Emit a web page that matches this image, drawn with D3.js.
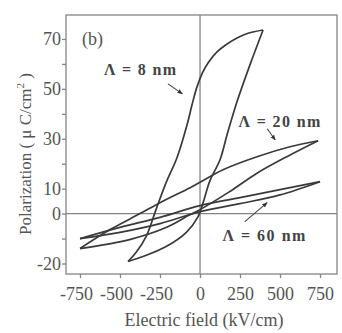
<!DOCTYPE html>
<html>
<head>
<meta charset="utf-8">
<script src="https://cdn.jsdelivr.net/npm/d3@7"></script>
<style>
	body { margin: 0; background: #fff; }
	svg { display: block; }
	svg text { font-family: "Liberation Serif", "Times New Roman", serif; fill: #555; }
</style>
</head>
<body>
<script>
// branches of the P-E loops, [E (kV/cm), P (uC/cm2)]
const loop8Upper = [[394, 73.6], [300, 72.3], [231, 70.4], [160, 67.6], [106, 64.8], [50, 60.4], [15, 56.4], [-20, 50.6],
	[-50, 43.6], [-81, 35.6], [-144, 22.4], [-212, 12.4], [-275, 1.6], [-337, -9.2], [-400, -15.6], [-450, -19.2]];
const loop8Lower = [[-450, -19.2], [-356, -17.2], [-212, -13.2], [-87, -7.6], [-12, -1.2], [20, 4.5], [62, 13.2],
	[125, 21.6], [169, 31.6], [231, 44.8], [312, 59.6], [394, 73.6]];
const loop20Upper = [[738, 29.2], [562, 26.8], [356, 22.8], [144, 17.6], [0, 12.6], [-62, 10.4], [-250, 4.4], [-375, 0],
	[-562, -6.4], [-750, -14]];
const loop20Lower = [[-750, -14], [-440, -10.4], [-212, -5.6], [-62, -0.4], [0, 1.6], [180, 8.6], [356, 16.2], [560, 23.4], [738, 29.2]];
const loop60Upper = [[750, 12.8], [500, 9.6], [250, 6.4], [0, 3.2], [-250, -1.5], [-500, -5.5], [-750, -10]];
const loop60Lower = [[-750, -10], [-500, -7.5], [-250, -4], [0, 0.8], [250, 4], [500, 7.5], [750, 12.8]];

const xTicks = [-750, -500, -250, 0, 250, 500, 750];
const yTicks = [-20, -10, 0, 10, 20, 30, 40, 50, 60, 70];
const yLabels = [-20, 0, 10, 30, 50, 70];

// annotation: text, text position and arrow [from, to] in data units
const notes = [
	{label: "Λ = 8 nm", at: [-600, 55.6], len: 72, arrow: [[-200, 52], [-110, 48]]},
	{label: "Λ = 20 nm", at: [240, 34.8], len: 82, arrow: [[420, 34], [470, 29.5]]},
	{label: "Λ  = 60 nm", at: [140, -11], len: 83, arrow: [[280, -3.2], [420, 4.4]]}
];

(() => {
	let width = 342;
	let height = 333;
	let left = 66, right = 337, top = 15, bottom = 274;

	let svg = d3.select("body").append("svg").attr("width", width).attr("height", height);

	let x = d3.scaleLinear().domain([-837.5, 856]).range([left, right]);
	let y = d3.scaleLinear().domain([-24.2, 79.6]).range([bottom, top]);

	let gray = "#858585";

	// frame
	svg.append("rect")
		.attr("x", left).attr("y", top)
		.attr("width", right - left).attr("height", bottom - top)
		.attr("fill", "none").attr("stroke", gray).attr("stroke-width", 1.3);

	// zero lines
	svg.append("line").attr("x1", x(0)).attr("x2", x(0)).attr("y1", top).attr("y2", bottom)
		.attr("stroke", gray).attr("stroke-width", 1.3);
	svg.append("line").attr("x1", left).attr("x2", right).attr("y1", y(0)).attr("y2", y(0))
		.attr("stroke", gray).attr("stroke-width", 1.3);

	// axes (plain hyphen for negatives, as in the figure)
	let xAxis = svg.append("g").attr("transform", `translate(0,${bottom})`)
		.call(d3.axisBottom(x).tickValues(xTicks).tickSize(4).tickPadding(9).tickSizeOuter(0)
			.tickFormat(d => String(d)));
	let yAxis = svg.append("g").attr("transform", `translate(${left},0)`)
		.call(d3.axisLeft(y).tickValues(yTicks).tickSize(4).tickPadding(1).tickSizeOuter(0)
			.tickFormat(d => yLabels.includes(d) ? String(d) : ""));
	[xAxis, yAxis].forEach(g => {
		g.attr("font-family", null).attr("font-size", null);
		g.select(".domain").remove();
		g.selectAll(".tick line").attr("stroke", gray).attr("stroke-width", 1.3);
		g.selectAll(".tick text").attr("fill", "#555").style("font-size", "18px");
	});
	xAxis.selectAll(".tick text").attr("dx", d => d < 0 ? -4 : 0);

	// axis titles
	svg.append("text")
		.attr("x", 204).attr("y", 326)
		.attr("text-anchor", "middle").style("font-size", "18px")
		.text("Electric field (kV/cm)");

	let yt = svg.append("text")
		.attr("transform", "translate(31,154) rotate(-90)")
		.attr("text-anchor", "middle").style("font-size", "17px");
	yt.append("tspan").text("Polarization ( μ C/cm");
	yt.append("tspan").attr("dy", -7).style("font-size", "11px").text("2");
	yt.append("tspan").attr("dy", 7).text(" )");

	svg.append("text").attr("x", 82).attr("y", 45).style("font-size", "18px").text("(b)");

	// loops
	let line = d3.line()
		.x(d => x(d[0]))
		.y(d => y(d[1]))
		.curve(d3.curveCatmullRom.alpha(0.5));

	[loop8Upper, loop8Lower, loop20Upper, loop20Lower, loop60Upper, loop60Lower].forEach(branch => {
		svg.append("path")
			.attr("d", line(branch))
			.attr("fill", "none")
			.attr("stroke", "#3a3a3a")
			.attr("stroke-width", 1.7);
	});

	// annotations
	svg.append("defs").append("marker")
		.attr("id", "head").attr("viewBox", "0 0 10 10")
		.attr("refX", 9).attr("refY", 5)
		.attr("markerWidth", 5).attr("markerHeight", 5)
		.attr("orient", "auto")
		.append("path").attr("d", "M0,1L10,5L0,9z").attr("fill", "#333");

	notes.forEach(n => {
		svg.append("text")
			.attr("x", x(n.at[0])).attr("y", y(n.at[1]))
			.attr("textLength", n.len).attr("lengthAdjust", "spacing")
			.style("font-size", "16px").style("font-weight", "bold")
			.style("fill", "#444")
			.text(n.label);
		svg.append("line")
			.attr("x1", x(n.arrow[0][0])).attr("y1", y(n.arrow[0][1]))
			.attr("x2", x(n.arrow[1][0])).attr("y2", y(n.arrow[1][1]))
			.attr("stroke", "#444").attr("stroke-width", 1.1)
			.attr("marker-end", "url(#head)");
	});
})();
</script>
</body>
</html>
